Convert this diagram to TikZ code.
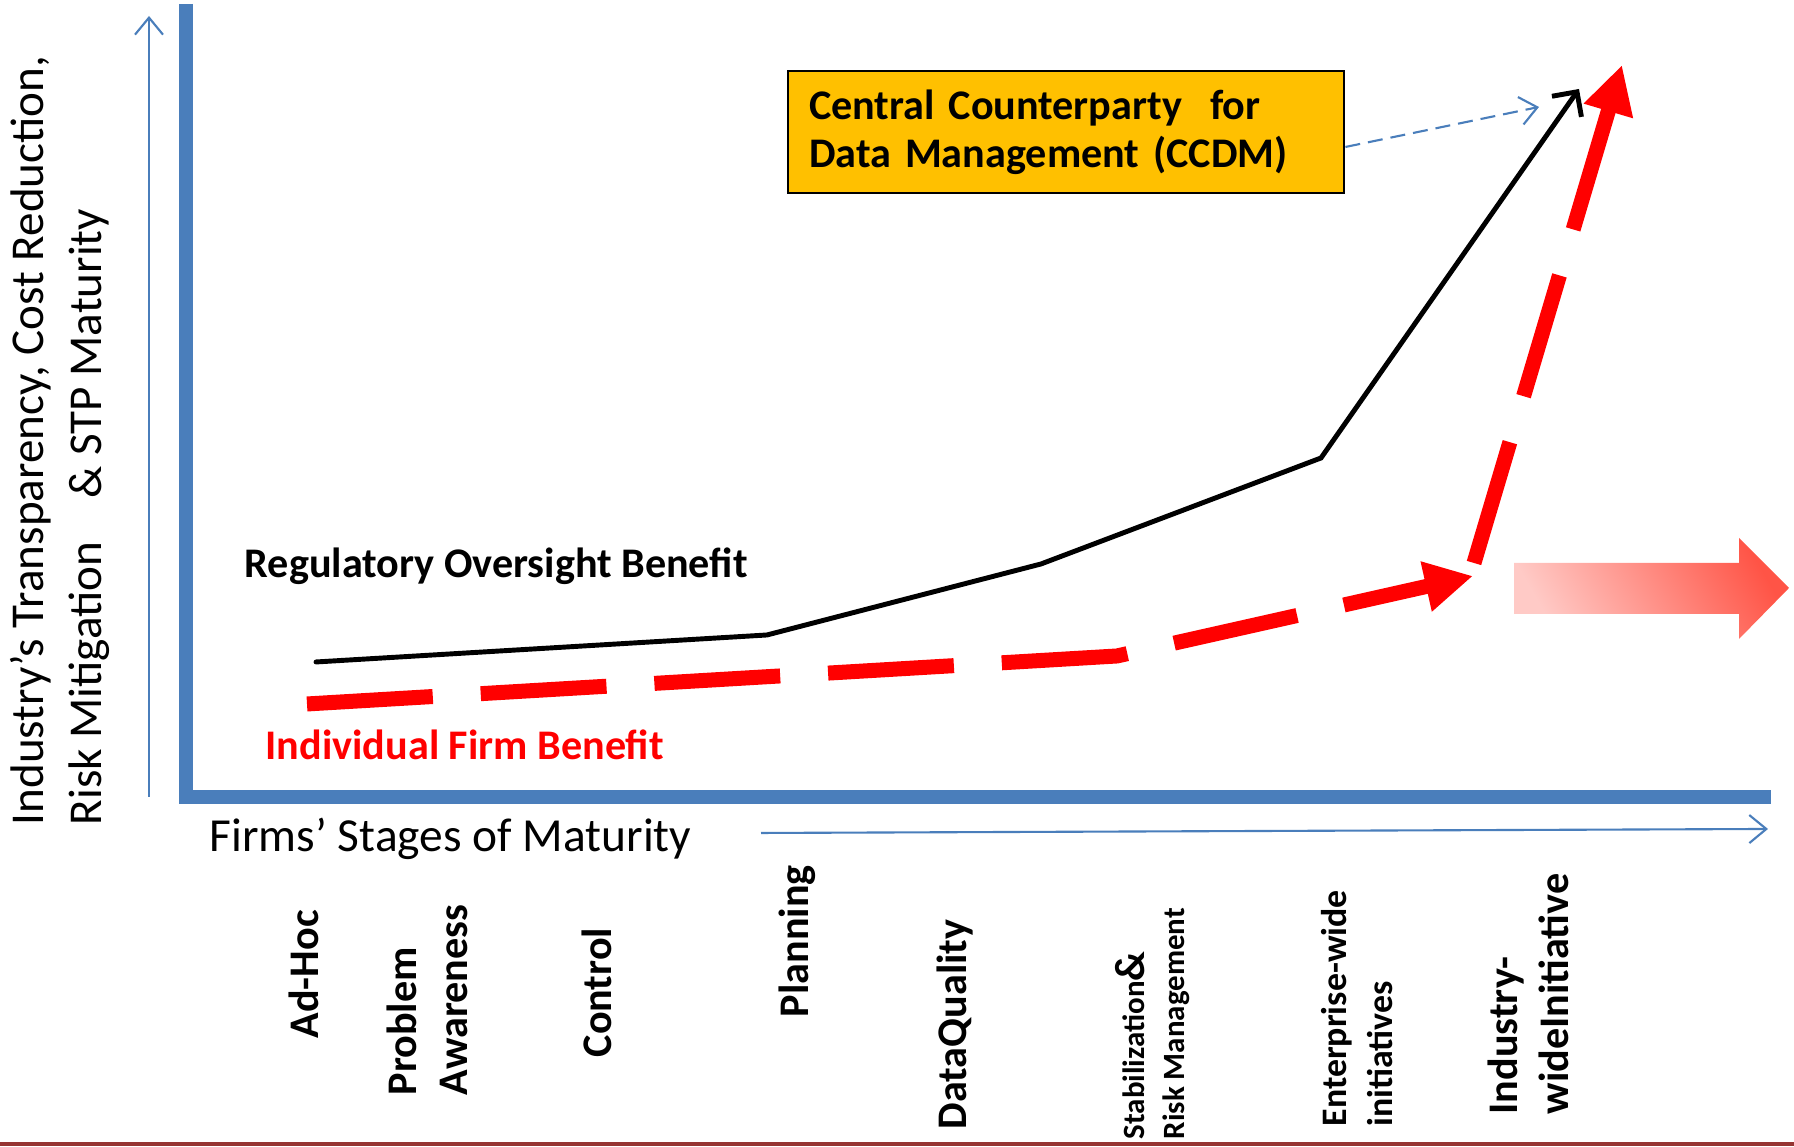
\documentclass[tikz,border=0pt]{standalone}
\usepackage{fontspec}
\setmainfont{Carlito}
\usetikzlibrary{arrows.meta}

\definecolor{axisblue}{RGB}{74,126,187}
\definecolor{ccdmgold}{RGB}{255,192,0}
\definecolor{framered}{RGB}{150,52,50}
\definecolor{pushlight}{RGB}{255,202,198}
\definecolor{pushdark}{RGB}{255,84,70}

\tikzset{
    axisbar/.style={axisblue, line width=0.14cm},
    axisarrow/.style={axisblue, line width=0.6pt, -{Straight Barb[length=0.17cm,width=0.28cm]}},
    firmdash/.style={red, line width=0.15cm, dash pattern=on 1.26cm off 0.48cm, -{Triangle[length=0.48cm,width=0.48cm]}},
    stage/.style={rotate=90, anchor=north west, inner sep=0pt, align=left, font=\bfseries\fontsize{12}{14.6}\selectfont},
}

\begin{document}
\begin{tikzpicture}

    \useasboundingbox (0,0) rectangle (17.94,11.47);

    %% Maturity diagram

    % Axes
    \draw[axisbar, line join=miter] (1.86,11.43) -- (1.86,3.50) -- (17.71,3.50);
    \coordinate (yfoot) at (1.49,3.50);
    \coordinate (yhead) at (1.49,11.31);
    \draw[axisarrow] (yfoot) -- (yhead);
    \coordinate (xfoot) at (7.61,3.14);
    \coordinate (xhead) at (17.68,3.18);
    \draw[axisarrow] (xfoot) -- (xhead);

    \node[rotate=90, anchor=north west, inner sep=0pt, align=left, font=\fontsize{13.4}{16.3}\selectfont] (ylabel) at (0.10,3.21)
        {Industry’s Transparency, Cost Reduction,\\Risk Mitigation\hspace{0.7em} \& STP Maturity};
    \node[anchor=base west, inner sep=0pt, font=\fontsize{13.5}{16}\selectfont] (xlabel) at (2.09,2.95) {Firms’ Stages of Maturity};

    % Regulatory oversight curve
    \coordinate (r1) at (3.16,4.85);
    \coordinate (r2) at (7.67,5.12);
    \coordinate (r3) at (10.41,5.83);
    \coordinate (r4) at (13.21,6.89);
    \coordinate (r5) at (15.79,10.58);
    \draw[line width=1.4pt, line cap=round, -{Straight Barb[length=0.18cm,width=0.36cm]}] (r1) -- (r2) -- (r3) -- (r4) -- (r5);
    \node[anchor=base west, inner sep=0pt, font=\bfseries\fontsize{12}{14}\selectfont] (regtext) at (2.44,5.69) {Regulatory Oversight Benefit};

    % Individual firm curve
    \coordinate (f1) at (3.07,4.43);
    \coordinate (f2) at (11.17,4.91);
    \coordinate (f3) at (14.73,5.71);
    \draw[firmdash] (f1) -- (f2) -- (f3);
    \coordinate (g1) at (14.74,5.84);
    \coordinate (g2) at (16.22,10.82);
    \draw[firmdash] (g1) -- (g2);
    \node[anchor=base west, inner sep=0pt, text=red, font=\bfseries\fontsize{12}{14}\selectfont] (firmtext) at (2.65,3.87) {Individual Firm Benefit};

    % CCDM box
    \node[draw, fill=ccdmgold, line width=0.8pt, minimum width=5.56cm, minimum height=1.22cm, text width=5.14cm,
          align=left, inner sep=0pt, font=\bfseries\fontsize{12}{13.7}\selectfont] (ccdm) at (10.66,10.15)
        {Central Counterparty\ \ for\\Data Management (CCDM)};
    \coordinate (ccdmtip) at (15.39,10.40);
    \draw[axisarrow, dash pattern=on 0.15cm off 0.08cm] ([yshift=-0.15cm]ccdm.east) -- (ccdmtip);

    % Push arrow
    \shade[bottom color=pushlight, top color=pushdark, shading angle=-60]
        (15.14,5.84) -- (17.39,5.84) -- (17.39,6.09) -- (17.89,5.59) -- (17.39,5.08) -- (17.39,5.33) -- (15.14,5.33) -- cycle;

    % Stages
    \node[stage] (adhoc) at (2.88,1.08) {Ad-Hoc};
    \node[stage] (awareness) at (3.86,0.51) {Problem\\Awareness};
    \node[stage] (control) at (5.81,0.89) {Control};
    \node[stage] (planning) at (7.78,1.29) {Planning};
    \node[stage] (quality) at (9.36,0.17) {DataQuality};
    \node[stage, font=\bfseries\fontsize{8.8}{11.4}\selectfont] (stabilization) at (11.15,0.07)
        {Stabilization{\fontsize{12}{12}\selectfont\&}\\Risk Management};
    \node[stage, font=\bfseries\fontsize{10.2}{13}\selectfont] (enterprise) at (13.21,0.20) {Enterprise-wide\\initiatives};
    \node[stage] (industry) at (14.87,0.32) {Industry-\\wideInitiative};

    % Frame line
    \draw[framered, line width=0.04cm] (0,0.03) -- (17.94,0.03);

\end{tikzpicture}
\end{document}
